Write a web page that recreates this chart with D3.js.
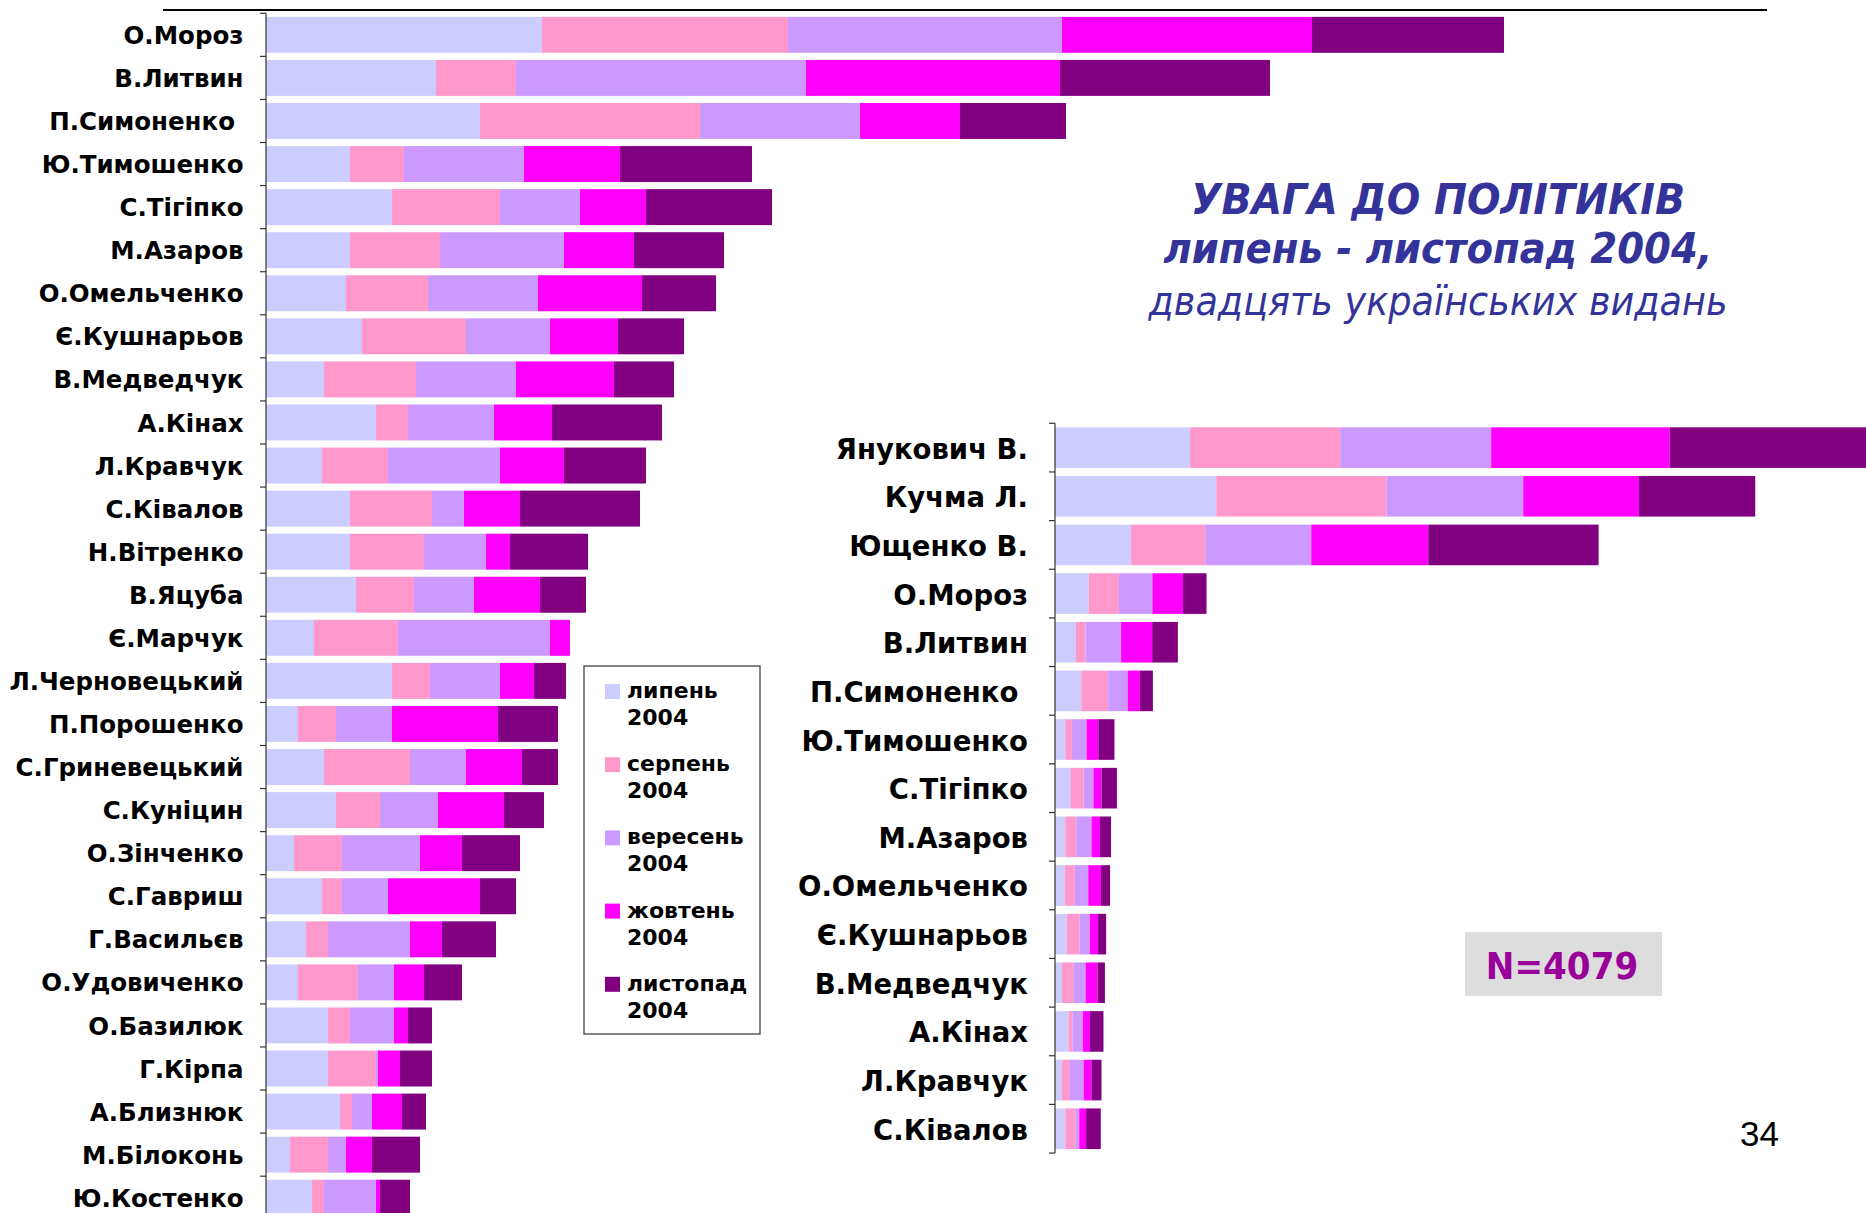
<!DOCTYPE html>
<html>
<head>
<meta charset="utf-8">
<script src="https://cdn.jsdelivr.net/npm/d3@7"></script>
<style>
  html, body { margin: 0; padding: 0; background: #fff; }
  svg { display: block; }
  text { white-space: pre; }
</style>
</head>
<body>
<svg id="chart" width="1866" height="1213"></svg>
<script>
// Politicians in order of overall attention (leaders first)
const names = [
  "Янукович В.", "Кучма Л.", "Ющенко В.",
  "О.Мороз", "В.Литвин", "П.Симоненко ", "Ю.Тимошенко", "С.Тігіпко",
  "М.Азаров", "О.Омельченко", "Є.Кушнарьов", "В.Медведчук", "А.Кінах",
  "Л.Кравчук", "С.Ківалов", "Н.Вітренко", "В.Яцуба", "Є.Марчук",
  "Л.Черновецький", "П.Порошенко", "С.Гриневецький", "С.Куніцин",
  "О.Зінченко", "С.Гавриш", "Г.Васильєв", "О.Удовиченко", "О.Базилюк",
  "Г.Кірпа", "А.Близнюк", "М.Білоконь", "Ю.Костенко"
];

// Mentions per month, same order as names
const july = [552, 659, 311,
  138, 85, 107, 42, 63, 42, 40, 48, 29, 55, 28, 42, 42, 45, 24,
  63, 16, 29, 35, 14, 28, 20, 16, 31, 31, 37, 12, 23];
const august = [613, 696, 303,
  123, 40, 110, 27, 54, 45, 41, 52, 46, 16, 33, 41, 37, 29, 42,
  19, 19, 43, 22, 24, 10, 11, 30, 11, 24, 6, 19, 6];
const september = [617, 558, 433,
  137, 145, 80, 60, 40, 62, 55, 42, 50, 43, 56, 16, 31, 30, 76,
  35, 28, 28, 29, 39, 23, 41, 18, 22, 1, 10, 9, 26];
const october = [730, 473, 478,
  125, 127, 50, 48, 33, 35, 52, 34, 49, 29, 32, 28, 12, 33, 10,
  17, 53, 28, 33, 21, 46, 16, 15, 7, 11, 15, 13, 2];
const november = [850, 475, 696,
  96, 105, 53, 66, 63, 45, 37, 33, 30, 55, 41, 60, 39, 23, 0,
  16, 30, 18, 20, 29, 18, 27, 19, 12, 16, 12, 24, 15];

const monthNames = ["липень", "серпень", "вересень", "жовтень", "листопад"];
const year = "2004";
const monthColors = ["#CCCCFF", "#FF99CC", "#CC99FF", "#FF00FF", "#800080"];

const titleLines = ["УВАГА ДО ПОЛІТИКІВ", "липень - листопад 2004,", "двадцять українських видань"];
const sampleLabel = "N=4079";
const pageNumber = "34";

const keys = ["july", "august", "september", "october", "november"];
const rows = names.map((n, i) => ({
  name: n,
  july: july[i], august: august[i], september: september[i],
  october: october[i], november: november[i]
}));

const svg = d3.select("#chart");
const stack = d3.stack().keys(keys);
const color = d3.scaleOrdinal().domain(keys).range(monthColors);

// Frame rule across the top
svg.append("line")
  .attr("x1", 163).attr("x2", 1767).attr("y1", 10).attr("y2", 10)
  .attr("stroke", "#000").attr("stroke-width", 2);

function drawPanel(data, opt) {
  const g = svg.append("g");
  const y = d3.scaleBand()
    .domain(data.map(d => d.name))
    .range([opt.top, opt.top + opt.step * data.length])
    .paddingInner(0.165).paddingOuter(0.0825);
  const x = d3.scaleLinear().domain([0, opt.max]).range([opt.left, opt.left + opt.width]);

  const series = stack(data);
  g.selectAll("g.series").data(series).join("g")
    .attr("class", "series")
    .attr("fill", s => color(s.key))
    .selectAll("rect").data(s => s).join("rect")
      .attr("x", d => x(d[0]))
      .attr("width", d => Math.max(0, x(d[1]) - x(d[0])))
      .attr("y", d => y(d.data.name))
      .attr("height", y.bandwidth());

  // category labels
  const axis = d3.axisLeft(y).tickSize(0).tickPadding(opt.labelGap);
  const ax = g.append("g").attr("transform", `translate(${opt.left},0)`).call(axis);
  ax.select(".domain").remove();
  ax.selectAll("text")
    .attr("font-family", "'DejaVu Sans', Verdana, sans-serif")
    .attr("font-weight", "bold")
    .attr("font-size", opt.fontSize)
    .attr("fill", "#000")
    .attr("dy", opt.dy);

  // axis line and boundary ticks between categories
  const y0 = opt.top, y1 = opt.top + opt.step * data.length;
  g.append("line").attr("x1", opt.left).attr("x2", opt.left)
    .attr("y1", y0).attr("y2", y1).attr("stroke", "#333").attr("stroke-width", 1.2);
  const bounds = d3.range(data.length + 1).map(i => opt.top + i * y.step());
  g.selectAll("line.tick-b").data(bounds).join("line")
    .attr("class", "tick-b")
    .attr("x1", opt.left - 6).attr("x2", opt.left)
    .attr("y1", d => d).attr("y2", d => d)
    .attr("stroke", "#333").attr("stroke-width", 1.2);
}

// Full list of politicians, excluding the three leaders
drawPanel(rows.slice(3), {
  top: 13.3, step: 43.07, left: 266, width: 1400, max: 700,
  labelGap: 22.5, fontSize: 24.5, dy: "0.37em"
});

// Leaders compared with the top of the list
drawPanel(rows.slice(0, 15), {
  top: 423.3, step: 48.65, left: 1055, width: 1400, max: 5720,
  labelGap: 27, fontSize: 27.5, dy: "0.4em"
});

// Legend
const lg = svg.append("g");
lg.append("rect").attr("x", 584).attr("y", 666).attr("width", 176).attr("height", 368)
  .attr("fill", "#fff").attr("stroke", "#444").attr("stroke-width", 1.3);
monthNames.forEach((m, i) => {
  const yy = 684 + i * 73.2;
  lg.append("rect").attr("x", 605).attr("y", yy).attr("width", 15).attr("height", 15)
    .attr("fill", monthColors[i]);
  const t = lg.append("text")
    .attr("font-family", "'DejaVu Sans', Verdana, sans-serif")
    .attr("font-weight", "bold").attr("font-size", 22).attr("fill", "#000");
  t.append("tspan").attr("x", 627).attr("y", yy + 14).text(m);
  t.append("tspan").attr("x", 627).attr("y", yy + 41).text(year);
});

// Title block
const title = svg.append("g").attr("fill", "#333399")
  .attr("font-family", "'DejaVu Sans', Verdana, sans-serif")
  .attr("text-anchor", "middle");
[[titleLines[0], 214, "bold", 42, 0.94], [titleLines[1], 263, "bold", 42, 0.92], [titleLines[2], 315, "normal", 40, 0.915]]
  .forEach(([s, by, w, fs, sx]) => {
    title.append("text")
      .attr("transform", `translate(1438,${by}) scale(${sx},1)`)
      .attr("font-style", "italic").attr("font-weight", w).attr("font-size", fs)
      .text(s);
  });

// Sample size badge
svg.append("rect").attr("x", 1465).attr("y", 932).attr("width", 197).attr("height", 64)
  .attr("fill", "#DDDDDD");
svg.append("text")
  .attr("transform", "translate(1562,979) scale(0.9,1)")
  .attr("text-anchor", "middle")
  .attr("font-family", "'DejaVu Sans', Verdana, sans-serif")
  .attr("font-weight", "bold").attr("font-size", 38).attr("fill", "#990099")
  .text(sampleLabel);

// Page number
svg.append("text").attr("x", 1779).attr("y", 1146).attr("text-anchor", "end")
  .attr("font-family", "'Liberation Sans', Arial, sans-serif")
  .attr("font-size", 35).attr("fill", "#000")
  .text(pageNumber);
</script>
</body>
</html>
